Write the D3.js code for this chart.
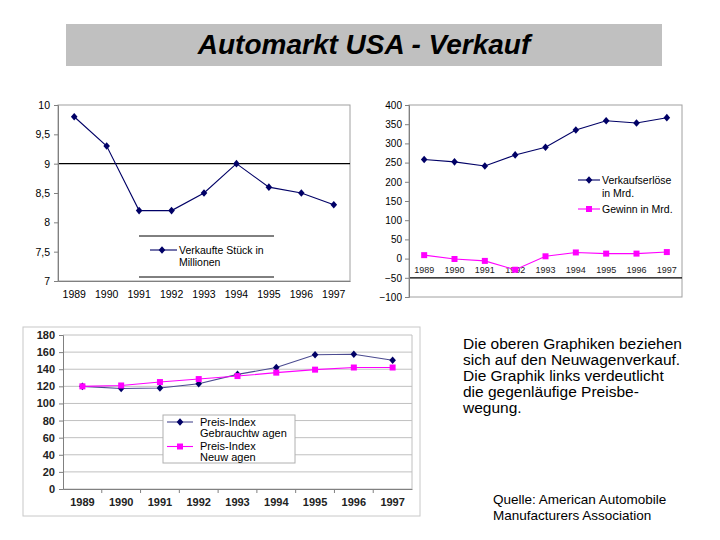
<!DOCTYPE html>
<html><head><meta charset="utf-8">
<script src="https://cdn.jsdelivr.net/npm/d3@7"></script>
<style>
body{margin:0;background:#fff;}
svg{display:block;font-family:"Liberation Sans",Arial,sans-serif;}
</style></head>
<body><svg id="c" width="720" height="540"></svg>
<script>
const years = ["1989","1990","1991","1992","1993","1994","1995","1996","1997"];
const stueck = [9.8, 9.3, 8.2, 8.2, 8.5, 9.0, 8.6, 8.5, 8.3];
const erloese = [258, 252, 241, 270, 290, 335, 359, 353, 367];
const gewinn = [9, -1, -6, -29, 6, 16, 13, 13, 17];
const gebraucht = [120, 117.5, 118, 123, 134, 142, 157, 157.5, 150.5];
const neu = [120, 121, 125, 128.5, 132, 136, 139.5, 142, 142];
const ticks1 = [7, 7.5, 8, 8.5, 9, 9.5, 10];
const ticks2 = [-100, -50, 0, 50, 100, 150, 200, 250, 300, 350, 400];
const ticks3 = [0, 20, 40, 60, 80, 100, 120, 140, 160, 180];
const titleText = "Automarkt USA - Verkauf";
const infoLines = ["Die oberen Graphiken beziehen","sich auf den Neuwagenverkauf.","Die Graphik links verdeutlicht","die gegenläufige Preisbe-","wegung."];
const sourceLines = ["Quelle: American Automobile","Manufacturers Association"];

const NAVY = "#000066", MAG = "#ff00ff";
const svg = d3.select("#c");
const fmtDE = d => String(d).replace(".", ",");

// Title bar
svg.append("rect").attr("x",66).attr("y",24).attr("width",596).attr("height",42).attr("fill","#c0c0c0");
svg.append("text").attr("x",364).attr("y",54).attr("text-anchor","middle")
  .attr("font-size",28).attr("font-style","italic").attr("font-weight","bold").attr("fill","#000").text(titleText);

const diamond = "M0,-3.8L3.3,0L0,3.8L-3.3,0Z";
const square = d3.symbol().type(d3.symbolSquare).size(36);

function drawSeries(g, x, y, vals, color, sym, lineColor){
  const line = d3.line().x((d,i)=>x(years[i])+x.bandwidth()/2).y(d=>y(d));
  g.append("path").attr("d",line(vals)).attr("fill","none").attr("stroke",lineColor||color).attr("stroke-width",1.1);
  g.selectAll(null).data(vals).join("path").attr("d",sym)
    .attr("transform",(d,i)=>`translate(${x(years[i])+x.bandwidth()/2},${y(d)})`).attr("fill",color);
}

// ---- Chart 1 ----
{
  const L=58,R=350,T=105,B=281;
  const x=d3.scaleBand().domain(years).range([L,R]);
  const y=d3.scaleLinear().domain([7,10]).range([B,T]);
  const g=svg.append("g");
  g.append("rect").attr("x",L).attr("y",T).attr("width",R-L).attr("height",B-T).attr("fill","none").attr("stroke","#a0a0a0");
  g.append("line").attr("x1",L).attr("x2",R).attr("y1",y(9)).attr("y2",y(9)).attr("stroke","#000").attr("stroke-width",1.2);
  const ya=g.append("g").attr("transform",`translate(${L},0)`).call(d3.axisLeft(y).tickValues(ticks1).tickSize(4).tickPadding(4).tickFormat(fmtDE));
  ya.select(".domain").attr("stroke","#808080");
  ya.selectAll(".tick line").attr("stroke","#808080");
  ya.selectAll("text").attr("font-size",10.5).attr("font-family","Liberation Sans, Arial, sans-serif");
  const xa=g.append("g").attr("transform",`translate(0,${B})`).call(d3.axisBottom(x).tickSize(0).tickPadding(10));
  xa.select(".domain").attr("stroke","#808080");
  xa.selectAll("text").attr("font-size",10.5).attr("font-family","Liberation Sans, Arial, sans-serif");
  drawSeries(g,x,y,stueck,NAVY,diamond);
  // legend
  g.append("line").attr("x1",139).attr("x2",274).attr("y1",236).attr("y2",236).attr("stroke","#000");
  g.append("line").attr("x1",139).attr("x2",274).attr("y1",277).attr("y2",277).attr("stroke","#000");
  g.append("line").attr("x1",150).attr("x2",177).attr("y1",250).attr("y2",250).attr("stroke",NAVY).attr("stroke-width",1.1);
  g.append("path").attr("d",diamond).attr("transform","translate(162,250)").attr("fill",NAVY);
  g.append("text").attr("x",179).attr("y",254).attr("font-size",10.5).text("Verkaufte Stück in");
  g.append("text").attr("x",179).attr("y",266).attr("font-size",10.5).text("Millionen");
}

// ---- Chart 2 ----
{
  const L=409,R=682,T=105,B=297;
  const x=d3.scaleBand().domain(years).range([L,R]);
  const y=d3.scaleLinear().domain([-100,400]).range([B,T]);
  const g=svg.append("g");
  g.append("rect").attr("x",L).attr("y",T).attr("width",R-L).attr("height",B-T).attr("fill","none").attr("stroke","#a0a0a0");
  g.append("line").attr("x1",L).attr("x2",R).attr("y1",y(-50)).attr("y2",y(-50)).attr("stroke","#000").attr("stroke-width",1.2);
  const ya=g.append("g").attr("transform",`translate(${L},0)`).call(d3.axisLeft(y).tickValues(ticks2).tickSize(4).tickPadding(3));
  ya.select(".domain").attr("stroke","#808080");
  ya.selectAll(".tick line").attr("stroke","#808080");
  ya.selectAll("text").attr("font-size",10).attr("font-family","Liberation Sans, Arial, sans-serif");
  const xa=g.append("g").attr("transform",`translate(0,${y(0)})`).call(d3.axisBottom(x).tickSize(0).tickPadding(8));
  xa.select(".domain").remove();
  xa.selectAll("text").attr("font-size",9).attr("font-family","Liberation Sans, Arial, sans-serif").attr("fill","#222");
  drawSeries(g,x,y,erloese,NAVY,diamond);
  drawSeries(g,x,y,gewinn,MAG,square);
  // legend
  g.append("line").attr("x1",578).attr("x2",600).attr("y1",180).attr("y2",180).attr("stroke",NAVY).attr("stroke-width",1.1);
  g.append("path").attr("d",diamond).attr("transform","translate(589,180)").attr("fill",NAVY);
  g.append("text").attr("x",602).attr("y",184).attr("font-size",10.5).text("Verkaufserlöse");
  g.append("text").attr("x",602).attr("y",197).attr("font-size",10.5).text("in Mrd.");
  g.append("line").attr("x1",578).attr("x2",600).attr("y1",209).attr("y2",209).attr("stroke",MAG).attr("stroke-width",1.1);
  g.append("path").attr("d",square).attr("transform","translate(589,209)").attr("fill",MAG);
  g.append("text").attr("x",602).attr("y",213).attr("font-size",10.5).text("Gewinn in Mrd.");
}

// ---- Chart 3 ----
{
  const L=63,R=412,T=335,B=489;
  svg.append("rect").attr("x",23).attr("y",327).attr("width",397).attr("height",189).attr("fill","none").attr("stroke","#c8c8c8");
  const x=d3.scaleBand().domain(years).range([L,R]);
  const y=d3.scaleLinear().domain([0,180]).range([B,T]);
  const g=svg.append("g");
  g.selectAll(null).data(ticks3).join("line").attr("x1",L).attr("x2",R).attr("y1",d=>y(d)).attr("y2",d=>y(d)).attr("stroke","#c0c0c0");
  g.append("line").attr("x1",R).attr("x2",R).attr("y1",T).attr("y2",B).attr("stroke","#c0c0c0");
  const ya=g.append("g").attr("transform",`translate(${L},0)`).call(d3.axisLeft(y).tickValues(ticks3).tickSize(4).tickPadding(4));
  ya.select(".domain").attr("stroke","#808080");
  ya.selectAll(".tick line").attr("stroke","#808080");
  ya.selectAll("text").attr("font-size",11).attr("font-weight","bold").attr("fill","#222").attr("font-family","Liberation Sans, Arial, sans-serif");
  const xa=g.append("g").attr("transform",`translate(0,${B})`).call(d3.axisBottom(x).tickSize(0).tickPadding(9));
  xa.select(".domain").attr("stroke","#808080");
  xa.selectAll("text").attr("font-size",11).attr("font-weight","bold").attr("fill","#222").attr("font-family","Liberation Sans, Arial, sans-serif");
  g.selectAll(null).data(years.slice(1)).join("line").attr("x1",d=>x(d)).attr("x2",d=>x(d)).attr("y1",B).attr("y2",B+4).attr("stroke","#808080");
  drawSeries(g,x,y,gebraucht,NAVY,diamond,"#4a4a90");
  drawSeries(g,x,y,neu,MAG,square);
  // legend
  g.append("rect").attr("x",163).attr("y",415).attr("width",132).attr("height",48).attr("fill","#fff").attr("stroke","#b0b0b0");
  g.append("line").attr("x1",167).attr("x2",193).attr("y1",422).attr("y2",422).attr("stroke","#4a4a90").attr("stroke-width",1.1);
  g.append("path").attr("d",diamond).attr("transform","translate(180,422)").attr("fill",NAVY);
  g.append("text").attr("x",200).attr("y",426).attr("font-size",11).text("Preis-Index");
  g.append("text").attr("x",200).attr("y",437).attr("font-size",11).text("Gebrauchtw agen");
  g.append("line").attr("x1",167).attr("x2",193).attr("y1",446.5).attr("y2",446.5).attr("stroke",MAG).attr("stroke-width",1.1);
  g.append("path").attr("d",square).attr("transform","translate(180,446.5)").attr("fill",MAG);
  g.append("text").attr("x",200).attr("y",450).attr("font-size",11).text("Preis-Index");
  g.append("text").attr("x",200).attr("y",461).attr("font-size",11).text("Neuw agen");
}

// ---- Text ----
svg.append("g").selectAll("text").data(infoLines).join("text")
  .attr("x",463).attr("y",(d,i)=>349+i*16).attr("font-size",15.5).attr("fill","#000").text(d=>d);
svg.append("g").selectAll("text").data(sourceLines).join("text")
  .attr("x",493).attr("y",(d,i)=>504+i*16).attr("font-size",13.5).attr("fill","#000").text(d=>d);
</script></body></html>
